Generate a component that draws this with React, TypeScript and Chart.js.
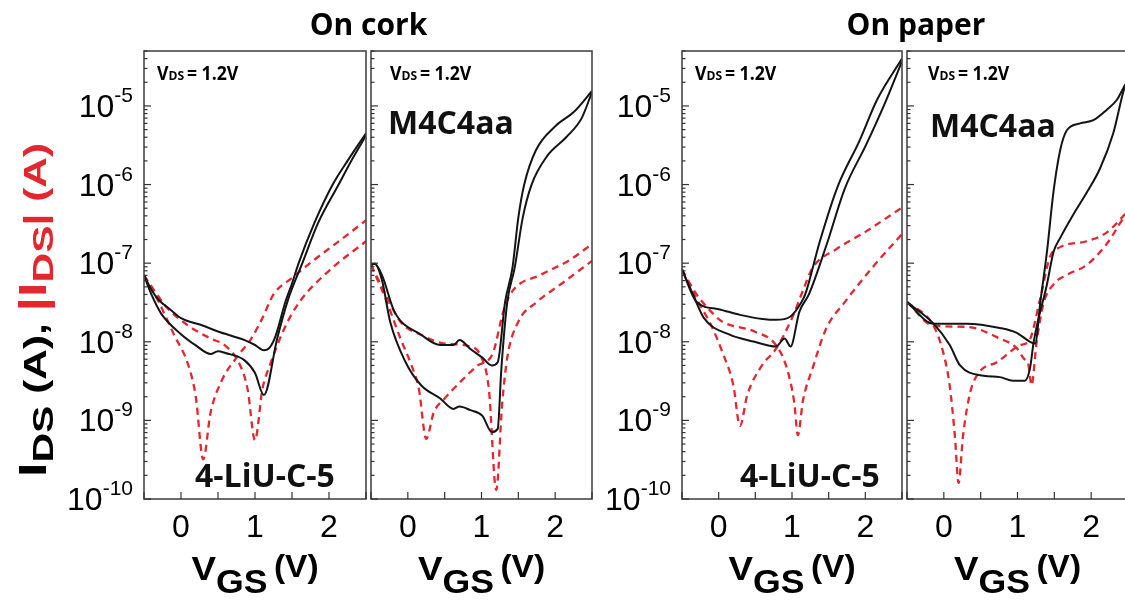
import React, { useEffect, useRef } from "react";
import { Chart, registerables } from "chart.js";

Chart.register(...registerables);

// ---------- data (V_GS in V, currents in A) ----------
// Panel 1: on cork, 4-LiU-C-5
const corkLiuBlackAV = [-0.5, -0.4, -0.3, -0.15, 0, 0.3, 0.5, 0.86, 1.0, 1.12, 1.2, 1.28, 1.41, 1.5, 1.59, 1.8, 2.05, 2.25, 2.5];
const corkLiuBlackAI = [7.0e-8, 4.6e-8, 3.4e-8, 2.6e-8, 2.0e-8, 1.6e-8, 1.35e-8, 1.05e-8, 9.1e-9, 7.8e-9, 8.5e-9, 1.2e-8, 3.2e-8, 5.5e-8, 1.0e-7, 3.2e-7, 1.0e-6, 2.0e-6, 4.5e-6];
const corkLiuBlackBV = [-0.5, -0.4, -0.27, 0, 0.2, 0.4, 0.5, 0.6, 0.86, 1.0, 1.12, 1.3, 1.45, 1.64, 1.85, 2.13, 2.3, 2.5];
const corkLiuBlackBI = [7.0e-8, 4.0e-8, 2.3e-8, 1.25e-8, 9.0e-9, 7.0e-9, 7.6e-9, 7.2e-9, 5.8e-9, 4.0e-9, 2.1e-9, 1.1e-8, 3.5e-8, 1.0e-7, 3.2e-7, 1.0e-6, 2.0e-6, 4.2e-6];
const corkLiuRedAV = [-0.5, -0.3, -0.1, 0.1, 0.2, 0.3, 0.4, 0.55, 0.75, 0.95, 1.1, 1.25, 1.5, 1.8, 2.1, 2.5];
const corkLiuRedAI = [7.0e-8, 3.2e-8, 1.26e-8, 5.0e-9, 2.0e-9, 3.2e-10, 1.26e-9, 3.2e-9, 6.3e-9, 1.1e-8, 2.0e-8, 4.0e-8, 6.5e-8, 1.1e-7, 1.8e-7, 3.5e-7];
const corkLiuRedBV = [-0.5, -0.2, 0.1, 0.4, 0.6, 0.8, 0.9, 1.0, 1.1, 1.2, 1.4, 1.6, 2.0, 2.5];
const corkLiuRedBI = [7.0e-8, 2.8e-8, 1.6e-8, 1.1e-8, 8.9e-9, 5.0e-9, 2.5e-9, 5.6e-10, 2.5e-9, 5.0e-9, 1.5e-8, 3.2e-8, 8.0e-8, 1.9e-7];

// Panel 2: on cork, M4C4aa
const corkM4BlackAV = [-0.5, -0.45, -0.35, -0.18, 0.18, 0.44, 0.62, 0.7, 0.85, 1.01, 1.14, 1.22, 1.32, 1.42, 1.5, 1.58, 1.74, 2.0, 2.26, 2.5];
const corkM4BlackAI = [9.5e-8, 9.8e-8, 7.0e-8, 2.4e-8, 1.23e-8, 9.1e-9, 9.1e-9, 1.05e-8, 8.1e-9, 6.3e-9, 5.0e-9, 5.5e-9, 3.2e-8, 8.7e-8, 3.8e-7, 1.0e-6, 2.75e-6, 5.5e-6, 8.5e-6, 1.55e-5];
const corkM4BlackBV = [-0.5, -0.45, -0.35, -0.24, -0.03, 0.18, 0.44, 0.62, 0.7, 0.85, 1.01, 1.14, 1.22, 1.27, 1.35, 1.45, 1.56, 1.68, 1.89, 2.15, 2.36, 2.5];
const corkM4BlackBI = [9.5e-8, 9.8e-8, 6.0e-8, 1.8e-8, 5.5e-9, 2.8e-9, 1.9e-9, 1.4e-9, 1.5e-9, 1.35e-9, 1.15e-9, 7.1e-10, 7.8e-10, 4.6e-9, 3.2e-8, 8.7e-8, 3.8e-7, 1.0e-6, 2.3e-6, 4.0e-6, 7.0e-6, 1.5e-5];
const corkM4RedAV = [-0.5, -0.3, -0.1, 0.05, 0.15, 0.25, 0.35, 0.5, 0.7, 0.95, 1.15, 1.3, 1.42, 1.8, 2.2, 2.5];
const corkM4RedAI = [9.5e-8, 3.5e-8, 1.1e-8, 5.0e-9, 2.5e-9, 5.8e-10, 1.25e-9, 1.9e-9, 3.0e-9, 5.0e-9, 7.0e-9, 2.5e-8, 4.4e-8, 7.1e-8, 1.1e-7, 1.75e-7];
const corkM4RedBV = [-0.5, -0.3, -0.1, 0.2, 0.5, 0.85, 1.0, 1.1, 1.2, 1.28, 1.35, 1.5, 1.75, 2.1, 2.5];
const corkM4RedBI = [9.5e-8, 4.0e-8, 1.8e-8, 1.2e-8, 9.5e-9, 8.7e-9, 6.3e-9, 2.5e-9, 1.3e-10, 1.6e-9, 6.3e-9, 1.8e-8, 3.2e-8, 5.6e-8, 1.07e-7];

// Panel 3: on paper, 4-LiU-C-5
const paperLiuBlackAV = [-0.5, -0.3, 0, 0.29, 0.6, 0.78, 0.98, 1.13, 1.18, 1.38, 1.62, 1.92, 2.16, 2.5];
const paperLiuBlackAI = [8.3e-8, 3.2e-8, 2.6e-8, 2.2e-8, 1.95e-8, 1.9e-8, 2.1e-8, 3.2e-8, 4.0e-8, 1.9e-7, 9.3e-7, 3.6e-6, 1.2e-5, 4.0e-5];
const paperLiuBlackBV = [-0.5, -0.35, -0.2, 0.15, 0.49, 0.78, 0.9, 0.98, 1.1, 1.23, 1.47, 1.72, 2.01, 2.26, 2.5];
const paperLiuBlackBI = [8.3e-8, 4.0e-8, 2.0e-8, 1.23e-8, 1.0e-8, 8.7e-9, 1.1e-8, 8.7e-9, 2.4e-8, 4.0e-8, 1.7e-7, 8.9e-7, 3.2e-6, 1.05e-5, 3.7e-5];
const paperLiuRedAV = [-0.5, -0.3, -0.1, 0.05, 0.2, 0.29, 0.39, 0.59, 0.78, 1.0, 1.15, 1.28, 1.6, 2.0, 2.5];
const paperLiuRedAI = [8.3e-8, 3.5e-8, 1.6e-8, 7.4e-9, 2.8e-9, 8.5e-10, 2.1e-9, 5.0e-9, 8.1e-9, 2.0e-8, 4.5e-8, 8.7e-8, 1.5e-7, 2.5e-7, 5.1e-7];
const paperLiuRedBV = [-0.5, -0.3, -0.1, 0.05, 0.49, 0.78, 0.93, 1.03, 1.08, 1.15, 1.28, 1.47, 1.72, 2.1, 2.5];
const paperLiuRedBI = [8.3e-8, 4.0e-8, 2.4e-8, 1.8e-8, 1.35e-8, 9.1e-9, 4.6e-9, 1.7e-9, 6.5e-10, 1.8e-9, 4.6e-9, 1.5e-8, 3.2e-8, 8.9e-8, 2.35e-7];

// Panel 4: on paper, M4C4aa
const paperM4BlackAV = [-0.5, -0.14, 0.31, 0.76, 0.99, 1.17, 1.24, 1.31, 1.4, 1.49, 1.58, 1.67, 1.85, 2.03, 2.21, 2.35, 2.46, 2.5];
const paperM4BlackAI = [3.2e-8, 1.7e-8, 1.7e-8, 1.5e-8, 1.3e-8, 1.0e-8, 9.5e-9, 3.2e-8, 1.4e-7, 8.3e-7, 2.75e-6, 4.9e-6, 6.0e-6, 6.6e-6, 8.9e-6, 1.2e-5, 1.85e-5, 2.1e-5];
const paperM4BlackBV = [-0.5, -0.14, 0.08, 0.22, 0.54, 0.76, 0.94, 1.1, 1.17, 1.22, 1.4, 1.49, 1.58, 1.76, 1.94, 2.12, 2.3, 2.46, 2.5];
const paperM4BlackBI = [3.2e-8, 1.7e-8, 9.1e-9, 5.0e-9, 3.7e-9, 3.55e-9, 3.2e-9, 3.2e-9, 4.6e-9, 1.0e-8, 5.4e-8, 1.4e-7, 2.1e-7, 4.2e-7, 7.9e-7, 1.6e-6, 4.5e-6, 1.8e-5, 2.1e-5];
const paperM4RedAV = [-0.5, -0.14, -0.01, 0.08, 0.15, 0.2, 0.26, 0.36, 0.49, 0.72, 0.9, 1.03, 1.15, 1.31, 1.44, 1.58, 1.94, 2.21, 2.46, 2.5];
const paperM4RedAI = [3.2e-8, 1.6e-8, 7.4e-9, 2.75e-9, 6.3e-10, 1.6e-10, 6.3e-10, 2.3e-9, 4.2e-9, 5.5e-9, 7.4e-9, 9.1e-9, 1.0e-8, 3.6e-8, 1.2e-7, 1.6e-7, 1.9e-7, 2.45e-7, 4.2e-7, 4.6e-7];
const paperM4RedBV = [-0.5, -0.14, 0.31, 0.76, 0.99, 1.08, 1.15, 1.19, 1.26, 1.35, 1.49, 1.67, 1.94, 2.21, 2.46, 2.5];
const paperM4RedBI = [3.2e-8, 1.6e-8, 1.55e-8, 1.1e-8, 8.3e-9, 6.2e-9, 5.0e-9, 2.8e-9, 1.0e-8, 3.0e-8, 5.4e-8, 7.1e-8, 9.5e-8, 1.75e-7, 4.0e-7, 4.4e-7];

// axes
const X_MIN = -0.5;
const X_MAX = 2.5;
const Y_MIN = 1e-10;
const Y_MAX = 5e-5;
const X_TICKS = [-0.5, 0, 0.5, 1, 1.5, 2, 2.5];
const X_LABELS = [0, 1, 2];
const Y_DECADES = [-5, -6, -7, -8, -9, -10];

const CANVAS_W = 1130;
const CANVAS_H = 604;
const TOP = 51;
const BOTTOM = 499;

const BLACK = "#141414";
const RED = "#e4262f";

type Series = { v: number[]; i: number[] };
type PanelDef = {
  left: number;
  right: number;
  black: Series[];
  red: Series[];
  yLabels: boolean;
  yTitle: boolean;
  sample: string;
  sampleDx: number;
  sampleBase: number;
  vdsDx: number;
  title?: string;
  titleCx?: number;
};

const PANELS: PanelDef[] = [
  {
    left: 144, right: 366,
    black: [{ v: corkLiuBlackAV, i: corkLiuBlackAI }, { v: corkLiuBlackBV, i: corkLiuBlackBI }],
    red: [{ v: corkLiuRedAV, i: corkLiuRedAI }, { v: corkLiuRedBV, i: corkLiuRedBI }],
    yLabels: true, yTitle: true, sample: "4-LiU-C-5", sampleDx: 51, sampleBase: 487, vdsDx: 13,
    title: "On cork", titleCx: 368.5,
  },
  {
    left: 371, right: 592,
    black: [{ v: corkM4BlackAV, i: corkM4BlackAI }, { v: corkM4BlackBV, i: corkM4BlackBI }],
    red: [{ v: corkM4RedAV, i: corkM4RedAI }, { v: corkM4RedBV, i: corkM4RedBI }],
    yLabels: false, yTitle: false, sample: "M4C4aa", sampleDx: 17, sampleBase: 134, vdsDx: 19,
  },
  {
    left: 682, right: 902,
    black: [{ v: paperLiuBlackAV, i: paperLiuBlackAI }, { v: paperLiuBlackBV, i: paperLiuBlackBI }],
    red: [{ v: paperLiuRedAV, i: paperLiuRedAI }, { v: paperLiuRedBV, i: paperLiuRedBI }],
    yLabels: true, yTitle: false, sample: "4-LiU-C-5", sampleDx: 58, sampleBase: 487, vdsDx: 13,
    title: "On paper", titleCx: 916,
  },
  {
    left: 907, right: 1128,
    black: [{ v: paperM4BlackAV, i: paperM4BlackAI }, { v: paperM4BlackBV, i: paperM4BlackBI }],
    red: [{ v: paperM4RedAV, i: paperM4RedAI }, { v: paperM4RedBV, i: paperM4RedBI }],
    yLabels: false, yTitle: false, sample: "M4C4aa", sampleDx: 23, sampleBase: 137, vdsDx: 21,
  },
];

type Part = { text: string; font: string; color?: string; dy?: number; gap?: number };

function measureParts(ctx: CanvasRenderingContext2D, parts: Part[]) {
  let total = 0;
  const widths = parts.map((p) => {
    ctx.font = p.font;
    const w = ctx.measureText(p.text).width;
    total += w + (p.gap || 0);
    return w;
  });
  return { total, widths };
}

function drawParts(ctx: CanvasRenderingContext2D, parts: Part[], x: number, y: number, sx = 1) {
  const { widths } = measureParts(ctx, parts);
  ctx.save();
  ctx.translate(x, y);
  ctx.scale(sx, 1);
  ctx.textAlign = "left";
  ctx.textBaseline = "alphabetic";
  let cx = 0;
  parts.forEach((p, k) => {
    ctx.font = p.font;
    ctx.fillStyle = p.color || "#000";
    ctx.fillText(p.text, cx, p.dy || 0);
    cx += widths[k] + (p.gap || 0);
  });
  ctx.restore();
}

const SANS = '"Liberation Sans", Arial, sans-serif';
const OPEN = '"Open Sans", "Noto Sans", sans-serif';

function makeDecor(panel: PanelDef) {
  return {
    id: "panelDecor",
    afterDraw(chart: any) {
      const { ctx, chartArea: ca } = chart;
      const xs = chart.scales.x;
      const ys = chart.scales.y;
      ctx.save();
      // frame
      ctx.strokeStyle = "#474747";
      ctx.lineWidth = 1.6;
      ctx.strokeRect(ca.left, ca.top, ca.right - ca.left, ca.bottom - ca.top);
      // x ticks (inward)
      ctx.lineWidth = 1.2;
      ctx.strokeStyle = "#333";
      X_TICKS.forEach((v) => {
        const px = xs.getPixelForValue(v);
        ctx.beginPath();
        ctx.moveTo(px, ca.bottom);
        ctx.lineTo(px, ca.bottom - 7);
        ctx.stroke();
      });
      // y ticks (inward, with minor)
      for (let e = -10; e <= -5; e++) {
        for (let m = 1; m <= 9; m++) {
          const v = m * Math.pow(10, e);
          if (v < Y_MIN * 0.999 || v > Y_MAX * 1.001) continue;
          const py = ys.getPixelForValue(v);
          const len = m === 1 ? 7 : 3.5;
          ctx.beginPath();
          ctx.moveTo(ca.left, py);
          ctx.lineTo(ca.left + len, py);
          ctx.stroke();
        }
      }
      // x tick labels
      ctx.fillStyle = "#000";
      ctx.textAlign = "center";
      ctx.textBaseline = "alphabetic";
      ctx.font = `32px ${SANS}`;
      X_LABELS.forEach((v) => {
        ctx.fillText(String(v), xs.getPixelForValue(v), ca.bottom + 38);
      });
      // x title V_GS (V)
      const xt: Part[] = [
        { text: "V", font: `bold 34px ${SANS}` },
        { text: "GS", font: `bold 33px ${SANS}`, dy: 13, gap: 6 },
        { text: "(V)", font: `bold 31px ${SANS}`, dy: -3 },
      ];
      const sxT = 1.08;
      const mt = measureParts(ctx, xt);
      const cxm = (ca.left + ca.right) / 2;
      drawParts(ctx, xt, cxm - (mt.total * sxT) / 2, 580, sxT);
      // y tick labels
      if (panel.yLabels) {
        Y_DECADES.forEach((e) => {
          const py = ys.getPixelForValue(Math.pow(10, e));
          const parts: Part[] = [
            { text: "10", font: `32px ${SANS}` },
            { text: `-${-e}`, font: `21px ${SANS}`, dy: -15 },
          ];
          const m = measureParts(ctx, parts);
          drawParts(ctx, parts, ca.left - 11 - m.total, py + 11);
        });
      }
      // V_DS label
      drawParts(
        ctx,
        [
          { text: "V", font: `bold 19px ${OPEN}` },
          { text: "DS", font: `bold 13px ${OPEN}`, gap: 3 },
          { text: "= 1.2V", font: `bold 19px ${OPEN}` },
        ],
        ca.left + panel.vdsDx,
        80,
        0.93
      );
      // sample label
      ctx.font = `bold 32px ${OPEN}`;
      ctx.textAlign = "left";
      ctx.fillStyle = "#111";
      ctx.fillText(panel.sample, ca.left + panel.sampleDx, panel.sampleBase);
      // section title
      if (panel.title) {
        ctx.font = `bold 30px ${OPEN}`;
        ctx.textAlign = "center";
        ctx.fillStyle = "#000";
        ctx.fillText(panel.title, panel.titleCx, 35);
      }
      // y title
      if (panel.yTitle) {
        const parts: Part[] = [
          { text: "I", font: `bold 38px ${SANS}`, color: "#000" },
          { text: "DS", font: `bold 30px ${SANS}`, color: "#000", dy: 7 },
          { text: " (A), ", font: `bold 31px ${SANS}`, color: "#000" },
          { text: "|I", font: `bold 38px ${SANS}`, color: RED },
          { text: "DS", font: `bold 30px ${SANS}`, color: RED, dy: 7 },
          { text: "| (A)", font: `bold 31px ${SANS}`, color: RED },
        ];
        const m = measureParts(ctx, parts);
        const target = 334;
        ctx.save();
        ctx.translate(46, 477);
        ctx.rotate(-Math.PI / 2);
        drawParts(ctx, parts, 0, 0, target / m.total);
        ctx.restore();
      }
      ctx.restore();
    },
  };
}

function toPoints(s: Series) {
  return s.v.map((v, k) => ({ x: v, y: s.i[k] }));
}

function Panel({ panel }: { panel: PanelDef }) {
  const ref = useRef<HTMLCanvasElement | null>(null);
  useEffect(() => {
    const canvas = ref.current;
    if (!canvas) return;
    const datasets: any[] = [];
    panel.black.forEach((s) =>
      datasets.push({
        data: toPoints(s),
        borderColor: BLACK,
        borderWidth: 2,
        pointRadius: 0,
        cubicInterpolationMode: "monotone",
        fill: false,
      })
    );
    panel.red.forEach((s) =>
      datasets.push({
        data: toPoints(s),
        borderColor: RED,
        borderWidth: 2.3,
        borderDash: [7, 5],
        pointRadius: 0,
        cubicInterpolationMode: "monotone",
        fill: false,
      })
    );
    const chart = new Chart(canvas, {
      type: "line",
      data: { datasets },
      options: {
        responsive: false,
        maintainAspectRatio: false,
        devicePixelRatio: 1,
        animation: false,
        events: [],
        layout: {
          padding: {
            left: panel.left,
            right: CANVAS_W - panel.right,
            top: TOP,
            bottom: CANVAS_H - BOTTOM,
          },
        },
        scales: {
          x: { type: "linear", min: X_MIN, max: X_MAX, display: false },
          y: { type: "logarithmic", min: Y_MIN, max: Y_MAX, display: false },
        },
        plugins: {
          legend: { display: false },
          tooltip: { enabled: false },
          title: { display: false },
        },
      },
      plugins: [makeDecor(panel)],
    } as any);
    const fonts: any = (document as any).fonts;
    if (fonts && fonts.ready) fonts.ready.then(() => chart.draw());
    return () => chart.destroy();
  }, [panel]);
  return (
    <canvas
      ref={ref}
      width={CANVAS_W}
      height={CANVAS_H}
      style={{ position: "absolute", left: 0, top: 0, width: CANVAS_W, height: CANVAS_H }}
    />
  );
}

export default function App() {
  return (
    <div
      style={{
        position: "fixed",
        left: 0,
        top: 0,
        width: 1125,
        height: 604,
        overflow: "hidden",
        background: "#fff",
      }}
    >
      {PANELS.map((p, k) => (
        <Panel key={k} panel={p} />
      ))}
    </div>
  );
}
